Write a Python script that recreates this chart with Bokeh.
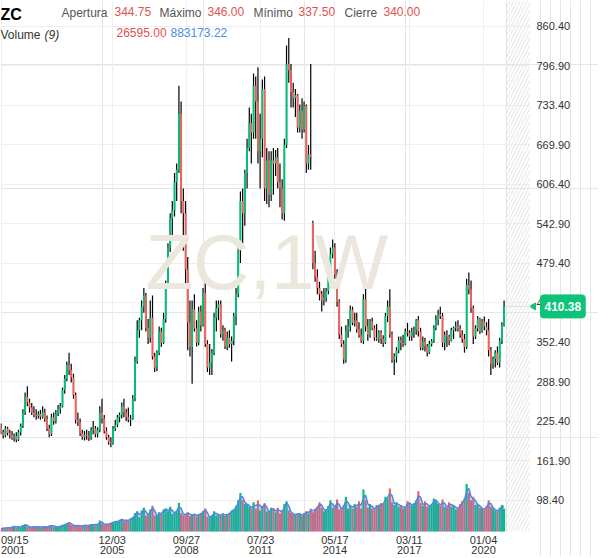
import numpy as np
import pandas as pd
from bokeh.plotting import figure
from bokeh.layouts import row
from bokeh.models import (ColumnDataSource, FixedTicker, Range1d, Grid, Label, BoxAnnotation)
from bokeh.core.properties import value
from bokeh.embed import file_html
from bokeh.resources import INLINE

# ---------------- data (monthly candles) ----------------
origin_date = "2001-09-15"
first_month = "2001-09-01"
last_month = "2020-10-01"
data_end_date = "2020-11-07"

opens = [
    215, 208, 203, 214,
    207, 204, 199, 202, 196, 208, 218, 240, 265, 256, 248, 240,
    236, 234, 238, 233, 240, 230, 214, 205, 232, 226, 238, 246,
    250, 276, 294, 316, 308, 296, 268, 228, 224, 206, 200, 204,
    202, 200, 212, 214, 205, 212, 240, 230, 210, 200, 192, 190,
    214, 220, 232, 236, 250, 240, 232, 228, 230, 262, 322, 372,
    388, 410, 428, 376, 360, 392, 330, 312, 336, 370, 352, 390,
    446, 505, 552, 565, 610, 630, 720, 580, 560, 470, 385, 345,
    406, 375, 352, 402, 380, 432, 350, 312, 320, 336, 392, 408,
    414, 366, 372, 346, 360, 350, 355, 395, 430, 500, 580, 560,
    625, 665, 705, 690, 765, 740, 660, 680, 760, 600, 645, 590,
    645, 640, 650, 610, 600, 560, 670, 800, 790, 755, 745, 750,
    698, 725, 695, 732, 640, 655, 545, 480, 458, 440, 430, 420,
    424, 435, 462, 495, 505, 462, 418, 365, 350, 325, 372, 378,
    405, 384, 388, 374, 364, 355, 422, 378, 365, 386, 375, 360,
    358, 368, 358, 352, 395, 410, 366, 325, 330, 340, 356, 352,
    350, 370, 368, 362, 370, 372, 388, 370, 344, 354, 346, 336,
    350, 355, 376, 388, 398, 395, 352, 365, 362, 355, 372, 376,
    378, 375, 365, 358, 345, 445, 438, 408, 362, 375, 390, 370,
    386, 378, 372, 340, 318, 326, 336, 320, 355, 380,
]
highs = [
    222, 212, 218, 217,
    212, 210, 206, 208, 212, 222, 245, 272, 282, 262, 255, 250,
    245, 242, 244, 250, 246, 235, 220, 238, 240, 244, 252, 255,
    280, 300, 322, 336, 318, 302, 272, 240, 230, 212, 210, 212,
    210, 216, 226, 218, 216, 250, 262, 236, 216, 204, 200, 218,
    228, 236, 240, 256, 262, 246, 248, 236, 268, 330, 388, 392,
    420, 440, 432, 390, 420, 428, 336, 340, 378, 376, 400, 452,
    512, 560, 580, 625, 640, 765, 740, 600, 580, 490, 420, 420,
    430, 388, 410, 412, 440, 450, 356, 350, 342, 400, 420, 420,
    420, 380, 376, 370, 372, 362, 400, 440, 510, 595, 600, 630,
    680, 730, 720, 785, 780, 795, 720, 775, 780, 665, 660, 660,
    665, 662, 665, 640, 615, 680, 830, 842, 800, 770, 760, 752,
    735, 745, 740, 735, 670, 800, 548, 500, 470, 450, 435, 440,
    440, 470, 505, 518, 512, 470, 422, 378, 356, 380, 390, 412,
    410, 400, 400, 385, 375, 430, 442, 390, 390, 392, 380, 382,
    372, 372, 364, 400, 420, 438, 370, 335, 345, 362, 362, 365,
    375, 384, 372, 376, 378, 390, 395, 376, 362, 360, 350, 355,
    358, 380, 396, 405, 410, 400, 370, 372, 365, 376, 378, 386,
    388, 380, 372, 366, 455, 465, 452, 412, 380, 395, 392, 390,
    394, 385, 390, 345, 330, 340, 346, 360, 385, 420,
]
lows = [
    205, 198, 200, 203,
    198, 196, 193, 192, 194, 203, 215, 236, 250, 240, 236, 232,
    228, 230, 228, 230, 225, 210, 200, 202, 220, 222, 234, 238,
    248, 270, 290, 300, 288, 262, 222, 218, 202, 196, 195, 196,
    194, 196, 205, 200, 200, 208, 222, 206, 196, 188, 184, 188,
    210, 216, 224, 230, 232, 226, 224, 218, 228, 258, 318, 360,
    372, 400, 370, 350, 352, 325, 305, 306, 332, 345, 350, 384,
    440, 498, 520, 555, 580, 625, 560, 500, 440, 340, 330, 286,
    370, 346, 348, 370, 378, 345, 305, 300, 300, 332, 370, 388,
    360, 355, 342, 340, 344, 322, 348, 380, 425, 480, 510, 540,
    600, 660, 640, 680, 680, 640, 600, 650, 580, 575, 570, 580,
    590, 620, 600, 570, 550, 548, 665, 770, 730, 730, 715, 690,
    690, 680, 690, 625, 630, 630, 470, 450, 430, 420, 402, 412,
    418, 430, 455, 488, 455, 410, 358, 345, 318, 320, 360, 370,
    380, 378, 368, 360, 352, 350, 370, 355, 360, 372, 355, 355,
    352, 350, 345, 350, 385, 360, 320, 300, 320, 335, 340, 345,
    348, 362, 355, 355, 360, 365, 362, 340, 340, 338, 330, 334,
    346, 352, 372, 380, 390, 345, 340, 345, 348, 354, 358, 370,
    370, 360, 352, 336, 342, 430, 400, 350, 358, 370, 366, 368,
    372, 364, 330, 300, 310, 312, 316, 312, 350, 378,
]
closes = [
    208, 203, 214, 207,
    204, 199, 202, 196, 208, 218, 240, 265, 256, 248, 240, 236,
    234, 238, 233, 240, 230, 214, 205, 232, 226, 238, 246, 250,
    276, 294, 316, 308, 296, 268, 228, 224, 206, 200, 204, 202,
    200, 212, 214, 205, 212, 240, 230, 210, 200, 192, 190, 214,
    220, 232, 236, 250, 240, 232, 228, 230, 262, 322, 372, 388,
    410, 428, 376, 360, 392, 330, 312, 336, 370, 352, 390, 446,
    505, 552, 565, 610, 630, 720, 580, 560, 470, 385, 345, 406,
    375, 352, 402, 380, 432, 350, 312, 320, 336, 392, 408, 414,
    366, 372, 346, 360, 350, 355, 395, 430, 500, 580, 560, 625,
    665, 705, 690, 765, 740, 660, 680, 760, 600, 645, 590, 645,
    640, 650, 610, 600, 560, 670, 800, 790, 755, 745, 750, 698,
    725, 695, 732, 640, 655, 650, 480, 458, 440, 430, 420, 424,
    435, 462, 495, 505, 462, 418, 365, 350, 325, 372, 378, 405,
    384, 388, 374, 364, 355, 422, 378, 365, 386, 375, 360, 358,
    368, 358, 352, 395, 410, 366, 325, 330, 340, 356, 352, 350,
    370, 368, 362, 370, 372, 388, 370, 344, 354, 346, 336, 350,
    355, 376, 388, 398, 395, 352, 365, 362, 355, 372, 376, 378,
    375, 365, 358, 345, 445, 438, 408, 362, 375, 390, 370, 386,
    378, 372, 340, 318, 326, 336, 320, 355, 380, 410.38,
]
volumes_k = [
    140, 210, 170, 230,
    190, 260, 300, 200, 300, 230, 350, 380, 270, 250, 220, 300,
    230, 290, 210, 270, 240, 250, 320, 350, 250, 300, 230, 320,
    340, 380, 450, 500, 350, 330, 300, 360, 270, 320, 360, 300,
    350, 400, 330, 420, 360, 600, 440, 370, 430, 400, 480, 520,
    560, 520, 640, 680, 560, 650, 580, 720, 760, 1000, 1100, 780,
    1150, 1300, 860, 950, 1200, 1400, 880, 840, 1050, 960, 1200, 1250,
    1100, 1350, 960, 1050, 1150, 1550, 1000, 900, 950, 1050, 850, 950,
    950, 820, 950, 1000, 1100, 1250, 800, 760, 900, 1100, 880, 950,
    860, 1000, 840, 950, 1000, 1150, 1200, 1400, 1700, 2100, 1700, 1500,
    1500, 1350, 1250, 1600, 1250, 1700, 1150, 1400, 1550, 1100, 1050, 1300,
    1200, 1050, 1300, 980, 1150, 1500, 1650, 1150, 1000, 940, 900, 1000,
    950, 870, 1000, 1100, 990, 1250, 1050, 1250, 1350, 1600, 1300, 1100,
    1200, 1400, 1700, 1300, 1350, 1750, 1200, 1250, 1450, 1900, 1250, 1450,
    1250, 1500, 1350, 1650, 1250, 2300, 1700, 1300, 1500, 1250, 1200, 1450,
    1400, 1550, 1500, 1900, 1800, 2350, 1600, 1450, 1600, 1350, 1450, 1250,
    1350, 1650, 1500, 1400, 1550, 1700, 2200, 1550, 1400, 1650, 1350, 1400,
    1500, 1800, 1650, 1500, 1400, 1750, 1350, 1300, 1600, 1350, 1450, 1200,
    1300, 1500, 1650, 1800, 2600, 2100, 1700, 1900, 1450, 1500, 1300, 1250,
    1200, 1400, 1700, 1350, 1250, 1150, 1100, 1300, 1450, 1250,
]

tick_dates = ["2001-09-15", "2005-12-03", "2008-09-27", "2011-07-23",
              "2014-05-17", "2017-03-11", "2020-01-04"]
tick_md = ["09/15", "12/03", "09/27", "07/23", "05/17", "03/11", "01/04"]
tick_year = ["2001", "2005", "2008", "2011", "2014", "2017", "2020"]
price_ticks = [98.40, 161.90, 225.40, 288.90, 352.40, 415.90, 479.40,
               542.90, 606.40, 669.90, 733.40, 796.90, 860.40]

header_items = [  # text, x, baseline (px from top), kind
    ("ZC", 0, 14, "title"),
    ("Apertura", 61, 12, "name"), ("344.75", 114, 11, "red"),
    ("Máximo", 159, 12, "name"), ("346.00", 207, 11, "red"),
    ("Mínimo", 253, 12, "name"), ("337.50", 298, 11, "red"),
    ("Cierre", 344, 12, "name"), ("340.00", 383, 11, "red"),
    ("Volume", 0, 34, "vol"), ("(9)", 44, 34, "volit"),
    ("26595.00", 116, 32, "red"), ("883173.22", 170, 32, "blue"),
]

# ---------------- derived ----------------
n = len(opens)
assert n == len(highs) == len(lows) == len(closes) == len(volumes_k)
origin = pd.Timestamp(origin_date)
dates = pd.date_range(first_month, last_month, freq="MS") + pd.Timedelta(days=14)
assert len(dates) == n
xw = np.asarray((dates - origin).days, dtype=float) / 7.0
o = np.array(opens, dtype=float)
c = np.array(closes, dtype=float)
UP, DOWN = "#00c176", "#f0625a"
TAG = "#0cc479"
colors = [UP if cc >= oo else DOWN for oo, cc in zip(o, c)]
vol_ma = pd.Series(volumes_k, dtype=float).rolling(2, min_periods=1).mean().to_numpy()

src = ColumnDataSource(dict(
    x=xw, o=o, h=highs, l=lows, c=c,
    top=np.maximum(o, c), bottom=np.minimum(o, c),
    color=colors, vol=volumes_k, ma=vol_ma,
))
tick_w = [(pd.Timestamp(d) - origin).days / 7.0 for d in tick_dates]
end_w = (pd.Timestamp(data_end_date) - origin).days / 7.0

# ---------------- geometry ----------------
PLOT_W, PLOT_H = 530, 531      # price/volume area
STRIP = 25                     # date label strip below it
AXIS_W = 68                    # price label column right of it
TOTAL_H = PLOT_H + STRIP
FONT = "Liberation Sans"
X_END = 1048
PRICE_LO, PRICE_HI = 48.5, 902.2
VOL_TOP = 29000
per_px = (PRICE_HI - PRICE_LO) / PLOT_H

xr = Range1d(-1, X_END)
yr = Range1d(PRICE_LO - STRIP * per_px, PRICE_HI)

common = dict(output_backend="svg", toolbar_location=None,
              x_axis_location=None, y_axis_location=None,
              min_border_left=0, min_border_right=0, min_border_top=0, min_border_bottom=0,
              outline_line_color=None, background_fill_color="white", border_fill_color="white")

# ---------------- main panel (price, volume, date labels) ----------------
p = figure(width=PLOT_W, height=TOTAL_H, x_range=xr, y_range=yr, **common)
p.extra_y_ranges = {"vol": Range1d(-VOL_TOP * STRIP / PLOT_H, VOL_TOP),
                    "px": Range1d(-STRIP, PLOT_H)}
p.add_layout(Grid(dimension=1, ticker=FixedTicker(ticks=price_ticks), grid_line_color="#efefef"))
p.add_layout(Grid(dimension=0, ticker=FixedTicker(ticks=tick_w), grid_line_color="#efefef"))

p.add_layout(BoxAnnotation(left=end_w, bottom=0, y_range_name="px", fill_alpha=0,
                           line_color=None, hatch_pattern="/", hatch_color="#e4e4e4",
                           hatch_weight=1, hatch_scale=7))

p.add_layout(Label(x=526, y=482, text="ZC,1W", text_align="center", text_baseline="middle",
                   text_font=FONT, text_font_size="78px", text_color="#ebe7dc"))

# white strip under the plot area (hides grid lines behind the date labels)
p.quad(left=[-1], right=[X_END], bottom=[-STRIP], top=[0], y_range_name="px",
       fill_color="white", line_color=None)

p.vbar(x="x", top="vol", bottom=0, width=4.3, fill_color="color", line_color=None,
       y_range_name="vol", source=src)
p.varea(x="x", y1=0, y2="ma", fill_color="#5b86e5", fill_alpha=0.34,
        y_range_name="vol", source=src)
p.line(x="x", y="ma", line_color="#5585e0", line_width=1.5, y_range_name="vol", source=src)

p.segment(x0="x", y0="l", x1="x", y1="h", line_color="black", line_width=1.2, source=src)
p.vbar(x="x", top="top", bottom="bottom", width=3.8, fill_color="color", line_color=None,
       source=src)

p.segment(x0=[xw[-1] + 2], y0=[closes[-1]], x1=[X_END], y1=[closes[-1]],
          line_color="#dddddd", line_width=1)

# date labels (two lines)
for align, sl in (("left", slice(0, 1)), ("center", slice(1, None))):
    for labels, yy in ((tick_md, -8.7), (tick_year, -18.2)):
        p.text(x=tick_w[sl], y=[yy] * len(tick_w[sl]), text=labels[sl], y_range_name="px",
               text_font=value(FONT), text_font_size="11px", text_color="#333333",
               text_align=align, text_baseline="middle")

styles = {
    "title": ("#000000", "16px", "bold"),
    "name": ("#555555", "12px", "normal"),
    "red": ("#e0524f", "12px", "normal"),
    "blue": ("#4d8ae6", "12px", "normal"),
    "vol": ("#333333", "12px", "normal"),
    "volit": ("#333333", "12px", "italic"),
}
for text, x, base, kind in header_items:
    col, size, style = styles[kind]
    p.add_layout(Label(x=x, y=TOTAL_H - base, x_units="screen", y_units="screen",
                       text=text, text_align="left", text_baseline="alphabetic",
                       text_font=FONT, text_font_size=size, text_font_style=style,
                       text_color=col))

# ---------------- right price axis panel ----------------
pr = figure(width=AXIS_W, height=TOTAL_H, x_range=Range1d(0, AXIS_W), y_range=yr, **common)
pr.text(x=[6] * len(price_ticks), y=price_ticks, text=[f"{t:.2f}" for t in price_ticks],
        text_font=value(FONT), text_font_size="11px", text_color="#333333",
        text_align="left", text_baseline="middle")
pr.scatter(x=[3], y=[closes[-1]], marker="triangle", angle=np.pi / 2, size=7,
           fill_color=TAG, line_color=TAG)
pr.add_layout(Label(x=10, y=closes[-1], text=f"{closes[-1]:.2f}", text_align="left",
                    text_baseline="middle", text_font=FONT, text_font_size="12px",
                    text_font_style="bold", text_color="white",
                    background_fill_color=TAG, border_line_color=TAG,
                    padding=(4, 7), border_radius=3))

layout = row(p, pr, spacing=0)
open("out.html", "w").write(file_html(layout, INLINE))
